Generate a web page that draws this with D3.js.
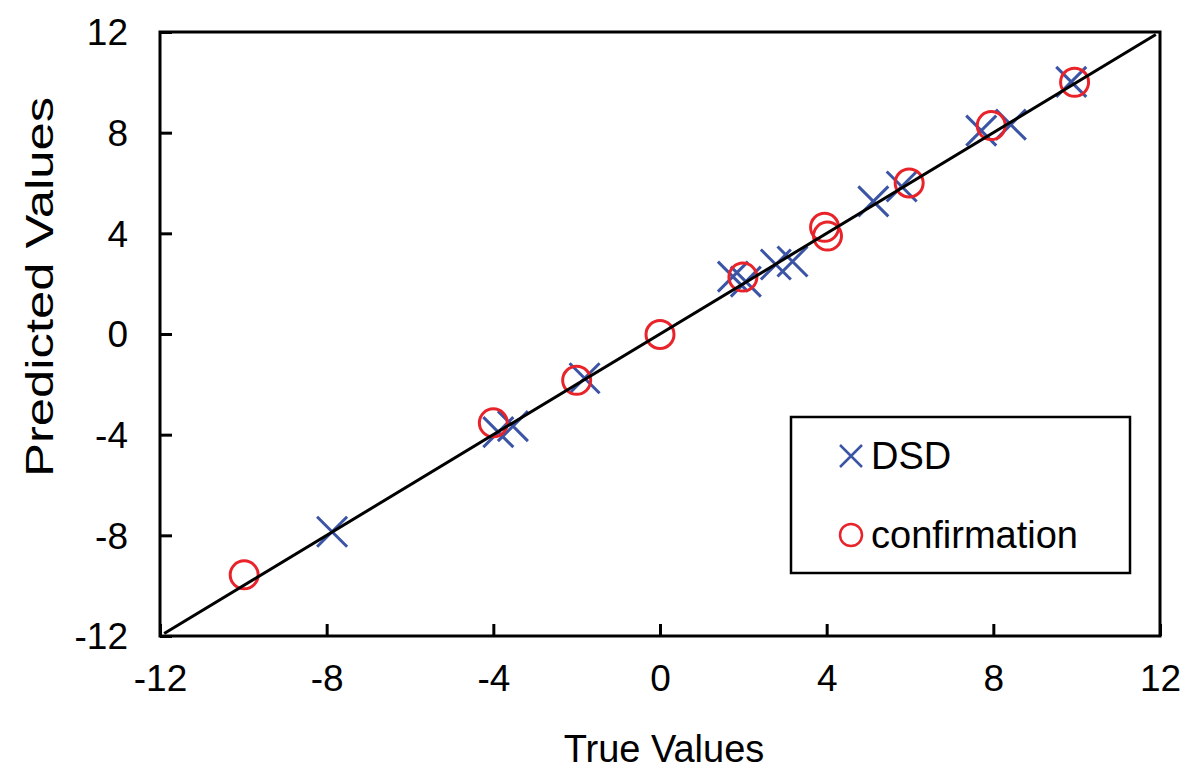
<!DOCTYPE html>
<html>
<head>
<meta charset="utf-8">
<script src="https://cdn.jsdelivr.net/npm/d3@7"></script>
<style>
  html, body { margin: 0; padding: 0; background: #fff; }
  svg { display: block; }
  text { font-family: "Liberation Sans", Arial, sans-serif; fill: #000; }
</style>
</head>
<body>
<svg id="chart" width="1200" height="775"></svg>
<script>
// ---- data ----
const dsdTrue = [-7.87, -3.88, -3.53, -1.81, 1.75, 2.06, 2.78, 3.18, 5.12, 5.8, 7.71, 8.42, 9.87];
const dsdPred = [-7.86, -3.9, -3.66, -1.76, 2.28, 2.08, 2.76, 2.88, 5.27, 5.86, 8.08, 8.32, 10.02];
const confTrue = [-9.98, -4.0, -2.0, 0.0, 1.99, 3.95, 4.02, 5.98, 7.95, 9.95];
const confPred = [-9.57, -3.53, -1.84, -0.02, 2.26, 4.24, 3.89, 6.0, 8.28, 10.0];
const xTicks = [-12, -8, -4, 0, 4, 8, 12];
const yTicks = [-12, -8, -4, 0, 4, 8, 12];
const lineEnds = [-11.9, 11.9];
const legendItems = ["DSD", "confirmation"];

const svg = d3.select("#chart");
const mLeft = 160, mRight = 1160, mTop = 32, mBottom = 636;

const x = d3.scaleLinear().domain([-12, 12]).range([mLeft, mRight]);
const y = d3.scaleLinear().domain([-12, 12]).range([mBottom, mTop]);

const blue = "#3B54A5", red = "#E8232A";
const fontSize = 37;
const fmt = d => String(d);

// axes
const xAxis = d3.axisBottom(x).tickValues(xTicks).tickSize(-12).tickPadding(29).tickFormat(fmt);
const yAxis = d3.axisLeft(y).tickValues(yTicks).tickSize(-12).tickPadding(32).tickFormat(fmt);

const gx = svg.append("g").attr("transform", `translate(0,${mBottom})`).call(xAxis);
const gy = svg.append("g").attr("transform", `translate(${mLeft},0)`).call(yAxis);
[gx, gy].forEach(g => {
  g.select(".domain").remove();
  g.selectAll(".tick line").attr("stroke", "#000").attr("stroke-width", 3);
  g.selectAll(".tick text").attr("font-size", fontSize).attr("font-family", "Liberation Sans, Arial, sans-serif").attr("fill", "#000");
});
gx.selectAll(".tick text").attr("dy", "0.71em");
gy.selectAll(".tick text").attr("dy", "0.35em");

// frame
svg.append("rect")
  .attr("x", mLeft).attr("y", mTop)
  .attr("width", mRight - mLeft).attr("height", mBottom - mTop)
  .attr("fill", "none").attr("stroke", "#000").attr("stroke-width", 3);

// crosses
const cs = 15;
const crossG = svg.append("g");
dsdTrue.forEach((t, i) => {
  const cx = x(t), cy = y(dsdPred[i]);
  crossG.append("path")
    .attr("d", `M${cx - cs},${cy - cs}L${cx + cs},${cy + cs}M${cx - cs},${cy + cs}L${cx + cs},${cy - cs}`)
    .attr("stroke", blue).attr("stroke-width", 3).attr("fill", "none");
});

// circles
svg.append("g").selectAll("circle")
  .data(confTrue.map((t, i) => [t, confPred[i]]))
  .join("circle")
  .attr("cx", d => x(d[0])).attr("cy", d => y(d[1]))
  .attr("r", 14)
  .attr("fill", "none").attr("stroke", red).attr("stroke-width", 3);

// diagonal line
svg.append("line")
  .attr("x1", x(lineEnds[0])).attr("y1", y(lineEnds[0]))
  .attr("x2", x(lineEnds[1])).attr("y2", y(lineEnds[1]))
  .attr("stroke", "#000").attr("stroke-width", 3);

// axis titles
svg.append("text")
  .attr("x", 664).attr("y", 762)
  .attr("text-anchor", "middle").attr("font-size", 38)
  .text("True Values");
svg.append("text")
  .attr("transform", `translate(53,287) rotate(-90)`)
  .attr("text-anchor", "middle").attr("font-size", 38)
  .attr("textLength", 380).attr("lengthAdjust", "spacingAndGlyphs")
  .text("Predicted Values");

// legend
const lg = svg.append("g");
lg.append("rect").attr("x", 791).attr("y", 417).attr("width", 339).attr("height", 156)
  .attr("fill", "#fff").attr("stroke", "#000").attr("stroke-width", 2.5);
const lc = [851, 456], lcs = 11;
lg.append("path")
  .attr("d", `M${lc[0] - lcs},${lc[1] - lcs}L${lc[0] + lcs},${lc[1] + lcs}M${lc[0] - lcs},${lc[1] + lcs}L${lc[0] + lcs},${lc[1] - lcs}`)
  .attr("stroke", blue).attr("stroke-width", 2.5);
lg.append("circle").attr("cx", 851).attr("cy", 535).attr("r", 11)
  .attr("fill", "none").attr("stroke", red).attr("stroke-width", 2.5);
lg.append("text").attr("x", 871).attr("y", 469).attr("font-size", 38).text(legendItems[0]);
lg.append("text").attr("x", 871).attr("y", 548).attr("font-size", 38).text(legendItems[1]);
</script>
</body>
</html>
